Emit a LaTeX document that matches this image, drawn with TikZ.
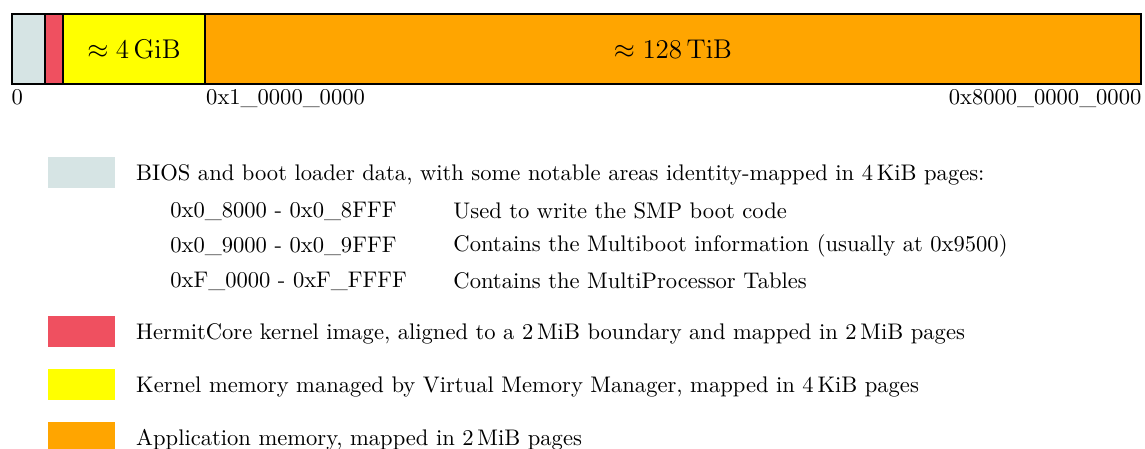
\documentclass[tikz,border=0pt]{standalone}
\usepackage{amsmath}
\usepackage{xcolor}
\usetikzlibrary{positioning, fit}
\definecolor{biosgray}{RGB}{214,228,228}
\definecolor{kernelred}{RGB}{239,80,96}
\definecolor{vmmyellow}{RGB}{255,255,0}
\definecolor{apporange}{RGB}{255,165,0}
\tikzset{
  segment/.style={rectangle, draw=black, line width=0.7pt, inner sep=0pt},
  sizelabel/.style={font=\large, inner sep=0pt},
  addr/.style={anchor=north, inner sep=2pt},
  swatch/.style={rectangle, inner sep=0pt},
  legend/.style={anchor=west, inner sep=0pt, align=left, yshift=-1.2pt},
  subrow/.style={anchor=west, inner sep=0pt}
}
\newcommand{\hex}[1]{0x#1}

\begin{document}
\begin{tikzpicture}[x=0.443pt, y=-0.443pt]
  \useasboundingbox (0,0) rectangle (1145,448);
  % memory bar
  \node[segment, fill=biosgray, fit={(12,14) (45,84)}] (bios) {};
  \node[segment, fill=kernelred, fit={(45,14) (63,84)}] (kernel) {};
  \node[segment, fill=vmmyellow, fit={(63,14) (205,84)}] (vmm) {};
  \node[segment, fill=apporange, fit={(205,14) (1141,84)}] (app) {};
  \node[sizelabel] (vmmsize) at (vmm.center) {$\approx 4\,\mathrm{GiB}$};
  \node[sizelabel] (appsize) at (app.center) {$\approx 128\,\mathrm{TiB}$};

  % addresses
  \node[addr, anchor=north west, inner xsep=0pt] (addr0) at (bios.south west) {0};
  \node[addr, anchor=north west, inner xsep=0pt] (addr4g) at (vmm.south east) {\hex{1\_0000\_0000}};
  \node[addr, anchor=north east, inner xsep=0pt] (addrtop) at (app.south east) {\hex{8000\_0000\_0000}};

  % legend
  \node[swatch, fill=biosgray, fit={(48,157) (115,188)}] (swbios) {};
  \node[legend, right=9pt of swbios.east] (txbios) {BIOS and boot loader data, with some notable areas identity-mapped in 4\,KiB pages:};
  \node[subrow] (smpaddr) at (170,211) {\hex{0\_8000} - \hex{0\_8FFF}};
  \node[subrow] (smptx) at (453,211) {Used to write the SMP boot code};
  \node[subrow] (mbaddr) at (170,246) {\hex{0\_9000} - \hex{0\_9FFF}};
  \node[subrow] (mbtx) at (453,246) {Contains the Multiboot information (usually at \hex{9500})};
  \node[subrow] (mpaddr) at (170,281) {\hex{F\_0000} - \hex{F\_FFFF}};
  \node[subrow] (mptx) at (453,281) {Contains the MultiProcessor Tables};

  \node[swatch, fill=kernelred, fit={(48,316) (115,347)}] (swkernel) {};
  \node[legend, right=9pt of swkernel.east] (txkernel) {HermitCore kernel image, aligned to a 2\,MiB boundary and mapped in 2\,MiB pages};

  \node[swatch, fill=vmmyellow, fit={(48,369) (115,400)}] (swvmm) {};
  \node[legend, right=9pt of swvmm.east] (txvmm) {Kernel memory managed by Virtual Memory Manager, mapped in 4\,KiB pages};

  \node[swatch, fill=apporange, fit={(48,422) (115,453)}] (swapp) {};
  \node[legend, right=9pt of swapp.east] (txapp) {Application memory, mapped in 2\,MiB pages};
\end{tikzpicture}
\end{document}
